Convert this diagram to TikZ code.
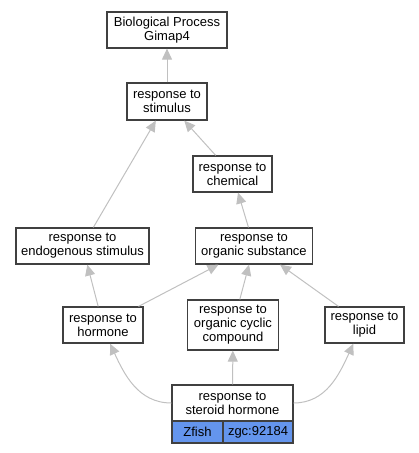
\documentclass[tikz,border=0pt]{standalone}
\usepackage{fontspec}
\setmainfont{Liberation Sans}
\usetikzlibrary{arrows.meta}
\definecolor{boxgray}{HTML}{404040}
\definecolor{edgegray}{HTML}{C0C0C0}
\definecolor{genecell}{HTML}{6495ED}
\begin{document}
\begin{tikzpicture}[x=1pt,y=-1pt]
\tikzset{term/.style = {draw=boxgray, line width=1.2pt, fill=white, align=center, inner sep=0pt, font=\fontsize{13}{14}\selectfont}}
\tikzset{gene/.style = {term, fill=genecell}}
\tikzset{edge/.style = {draw=edgegray, line width=1pt, -{Triangle[length=11pt,width=10pt]}}}
\useasboundingbox (0,0) rectangle (419,453);
\node[term, minimum width=120pt, minimum height=36pt](bp) at (167,30) {Biological Process\\Gimap4};
\node[term, minimum width=80pt, minimum height=37pt](stim) at (167,101.5) {response to\\stimulus};
\node[term, minimum width=79pt, minimum height=36pt](chem) at (232.5,174) {response to\\chemical};
\node[term, minimum width=133pt, minimum height=36pt](endo) at (82.5,246) {response to\\endogenous stimulus};
\node[term, minimum width=117pt, minimum height=36pt](orgsub) at (254,246) {response to\\organic substance};
\node[term, minimum width=80pt, minimum height=36pt](horm) at (103,325) {response to\\hormone};
\node[term, minimum width=91pt, minimum height=50pt](cyclic) at (233,325) {response to\\organic cyclic\\compound};
\node[term, minimum width=79pt, minimum height=36pt](lipid) at (364.5,325) {response to\\lipid};
\node[term, minimum width=121pt, minimum height=36pt](steroid) at (232.5,403) {response to\\steroid hormone};
\node[gene, minimum width=51pt, minimum height=22pt](zfish) at (197.5,432) {Zfish};
\node[gene, minimum width=70pt, minimum height=22pt](zgc) at (258,432) {zgc:92184};
\draw[edge] (stim) -- (bp);
\draw[edge] (endo) -- (stim);
\draw[edge] (chem) -- (stim);
\draw[edge] (orgsub) -- (chem);
\draw[edge] (horm) -- (endo);
\draw[edge] (horm) -- (orgsub);
\draw[edge] (cyclic) -- (orgsub);
\draw[edge] (lipid) -- (orgsub);
\draw[edge] (steroid.west) to[out=180, in=-65] ([xshift=7pt]horm.south);
\draw[edge] (steroid) -- (cyclic);
\draw[edge] (steroid.east) to[out=0, in=-115] ([xshift=-11pt]lipid.south);
\end{tikzpicture}
\end{document}
